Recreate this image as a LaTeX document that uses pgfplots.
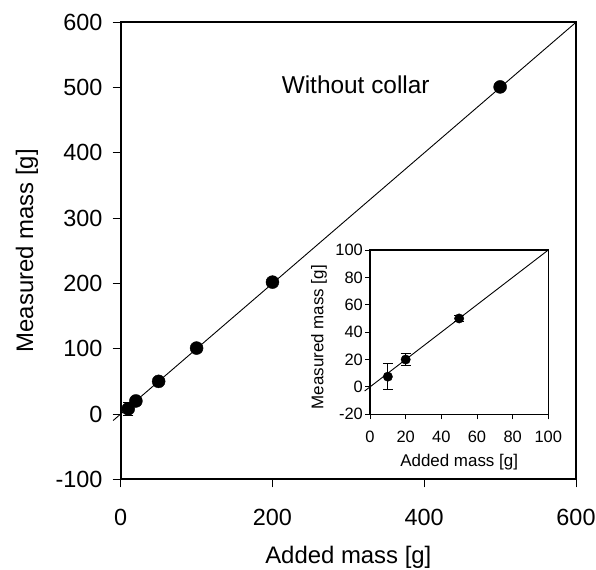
\documentclass[border=0pt]{standalone}
\usepackage{fontspec}
\setmainfont{Liberation Sans}
\usepackage{pgfplots}
\pgfplotsset{compat=1.18}
\begin{document}
\begin{tikzpicture}[x=1bp,y=1bp]
\useasboundingbox (0,0) rectangle (596,570);
\begin{axis}[
  at={(120.7bp,90.7bp)}, anchor=south west,
  width=455.3bp, height=457bp, scale only axis,
  xmin=0, xmax=600, ymin=-100, ymax=600,
  xtick={0,200,400,600}, ytick={-100,0,100,200,300,400,500,600},
  tick align=outside, major tick length=8bp,
  xtick pos=bottom, ytick pos=left,
  axis line style={line width=1.6bp},
  tick style={line width=1bp, black},
  /pgf/number format/assume math mode=true,
  ticklabel style={font=\fontsize{23.5}{27}\selectfont},
  xticklabel style={inner sep=0pt, anchor=north, yshift=-22bp},
  yticklabel style={inner sep=0pt, anchor=east, xshift=-10bp},
  label style={font=\fontsize{24}{28}\selectfont},
  xlabel={Added mass [g]},
  ylabel={Measured mass [g]},
  xlabel style={at={(axis description cs:0.5,-0.1832)}, anchor=base, inner sep=0pt},
  ylabel style={at={(axis description cs:-0.1926,0.5)}, anchor=base, inner sep=0pt},
  clip=false,
]
\addplot[black, line width=0.9bp, no marks] coordinates {(-10,-10) (600,600)};
\addplot[black, only marks, mark=*, mark size=6.5bp,
  error bars/.cd, y dir=both, y explicit, error bar style={line width=0.9bp}, error mark options={rotate=90, mark size=5bp}]
  coordinates {
  (10,8) +- (0,9.5)
  (20,20) +- (0,4.5)
  (50,50) +- (0,2.5)
  (100,101) +- (0,2)
  (200,202) +- (0,2)
  (500,501) +- (0,2)
};
\node[anchor=base west, inner sep=0pt, font=\fontsize{24.5}{28}\selectfont] at (axis cs:212,491.6) {Without collar};
\end{axis}
\begin{axis}[
  at={(370bp,155.7bp)}, anchor=south west,
  width=178.3bp, height=164.3bp, scale only axis,
  axis background/.style={fill=white},
  xmin=0, xmax=100, ymin=-20, ymax=100,
  xtick={0,20,40,60,80,100}, ytick={-20,0,20,40,60,80,100},
  tick align=outside, major tick length=5bp,
  xtick pos=bottom, ytick pos=left,
  axis line style={line width=1.2bp},
  tick style={line width=0.9bp, black},
  /pgf/number format/assume math mode=true,
  ticklabel style={font=\fontsize{16.5}{19}\selectfont},
  xticklabel style={inner sep=0pt, anchor=north, yshift=-12bp},
  yticklabel style={inner sep=0pt, anchor=east, xshift=-2bp},
  label style={font=\fontsize{17}{20}\selectfont},
  xlabel={Added mass [g]},
  ylabel={Measured mass [g]},
  xlabel style={at={(axis description cs:0.5,-0.318)}, anchor=base, inner sep=0pt},
  ylabel style={at={(axis description cs:-0.2619,0.469)}, anchor=base, inner sep=0pt},
  clip=false,
]
\addplot[black, line width=0.9bp, no marks] coordinates {(-3,-3) (100,100)};
\addplot[black, only marks, mark=*, mark size=4.7bp,
  error bars/.cd, y dir=both, y explicit, error bar style={line width=0.9bp}, error mark options={rotate=90, mark size=5bp, line width=0.9bp}]
  coordinates {
  (10,7.5) +- (0,9.5)
  (20,20) +- (0,4.5)
  (50,50) +- (0,2.5)
};
\end{axis}
\end{tikzpicture}
\end{document}
